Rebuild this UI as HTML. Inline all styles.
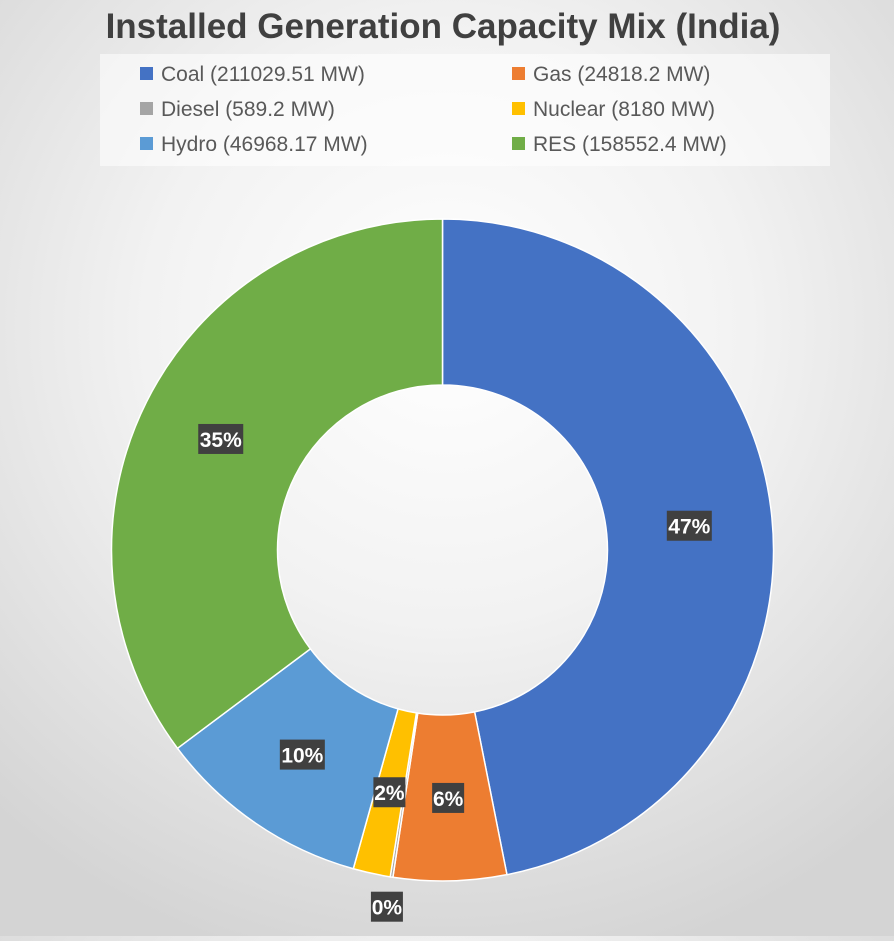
<!DOCTYPE html>
<html><head><meta charset="utf-8">
<style>
html,body{margin:0;padding:0;}
body{width:894px;height:936px;overflow:hidden;font-family:"Liberation Sans",sans-serif;
background:radial-gradient(ellipse 75% 70% at 50% 35%,#ffffff 0%,#f2f2f2 45%,#d4d4d4 100%);}
</style></head>
<body>
<svg id="chart" width="894" height="936" xmlns="http://www.w3.org/2000/svg">
<text x="443" y="38" text-anchor="middle" font-family="Liberation Sans, sans-serif" font-weight="bold" font-size="35" fill="#404040">Installed Generation Capacity Mix (India)</text>
<rect x="100" y="54" width="730" height="112" fill="#ffffff" opacity="0.55"/>
<g id="legend"></g>
<g id="slices"></g>
<g id="labels"></g>
</svg>
<script>
const categories = ["Coal","Gas","Diesel","Nuclear","Hydro","RES"];
const values = [211029.51, 24818.2, 589.2, 8180, 46968.17, 158552.4];
const legendLabels = ["Coal (211029.51 MW)","Gas (24818.2 MW)","Diesel (589.2 MW)","Nuclear (8180 MW)","Hydro (46968.17 MW)","RES (158552.4 MW)"];
const colors = ["#4472c4","#ed7d31","#a5a5a5","#ffc000","#5b9bd5","#70ad47"];
const NS="http://www.w3.org/2000/svg";
const cx=442.5, cy=550, R=331, r=165;
const total=values.reduce((a,b)=>a+b,0);
function pt(rad,ang){return [cx+rad*Math.sin(ang), cy-rad*Math.cos(ang)];}
const sg=document.getElementById('slices'), lg=document.getElementById('labels');
let a0=0;
values.forEach((v,i)=>{
  const f=v/total, a1=a0+f*2*Math.PI, large=(a1-a0)>Math.PI?1:0;
  const p1=pt(R,a0),p2=pt(R,a1),p3=pt(r,a1),p4=pt(r,a0);
  const path=document.createElementNS(NS,'path');
  path.setAttribute('d',`M${p1[0]},${p1[1]} A${R},${R} 0 ${large} 1 ${p2[0]},${p2[1]} L${p3[0]},${p3[1]} A${r},${r} 0 ${large} 0 ${p4[0]},${p4[1]} Z`);
  path.setAttribute('fill',colors[i]);path.setAttribute('stroke','#ffffff');path.setAttribute('stroke-width','1.5');
  
  
  sg.appendChild(path);
  const mid=(a0+a1)/2;
  const lr = f<0.01 ? R+30 : (R+r)/2;
  const [lx,ly]=pt(lr,mid);
  const txt=Math.round(f*100)+'%';
  const w=txt.length*13+6;
  const g=document.createElementNS(NS,'g');
  
  
  const rc=document.createElementNS(NS,'rect');
  rc.setAttribute('x',lx-w/2);rc.setAttribute('y',ly-15);rc.setAttribute('width',w);rc.setAttribute('height',30);rc.setAttribute('fill','#404040');
  const t=document.createElementNS(NS,'text');
  t.setAttribute('x',lx);t.setAttribute('y',ly+8);t.setAttribute('text-anchor','middle');
  t.setAttribute('font-size','21');t.setAttribute('font-weight','bold');t.setAttribute('fill','#ffffff');
  t.setAttribute('font-family','Liberation Sans, sans-serif');
  t.textContent=txt;
  g.appendChild(rc);g.appendChild(t);lg.appendChild(g);
  a0=a1;
});
const leg=document.getElementById('legend');
legendLabels.forEach((s,i)=>{
  const col=i%2,row=Math.floor(i/2);
  const x=col?512:140,y=73+row*35;
  const g=document.createElementNS(NS,'g');
  
  
  const m=document.createElementNS(NS,'rect');
  m.setAttribute('x',x);m.setAttribute('y',y-6);m.setAttribute('width',13);m.setAttribute('height',13);m.setAttribute('fill',colors[i]);
  const t=document.createElementNS(NS,'text');
  t.setAttribute('x',x+21);t.setAttribute('y',y+8);t.setAttribute('font-size','21');t.setAttribute('fill','#595959');
  t.setAttribute('font-family','Liberation Sans, sans-serif');
  t.textContent=s;
  g.appendChild(m);g.appendChild(t);leg.appendChild(g);
});
</script>
</body></html>
